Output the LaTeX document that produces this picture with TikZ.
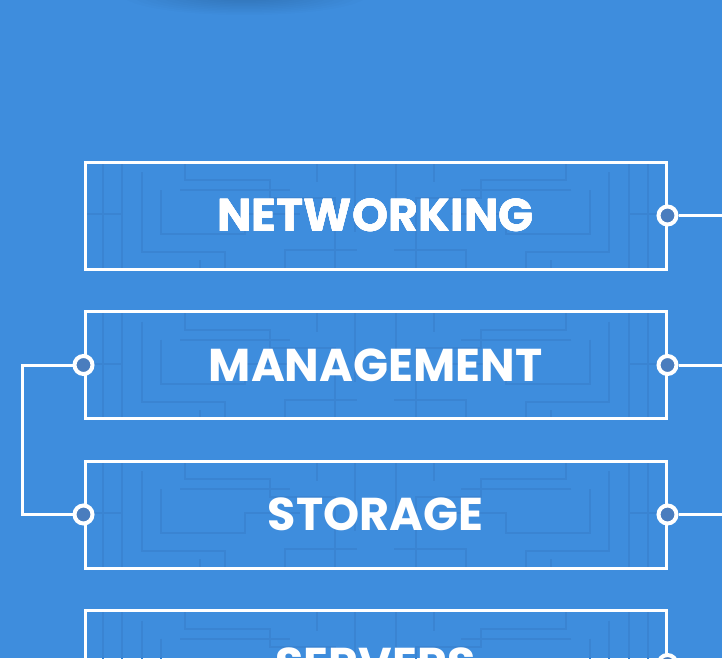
\documentclass[tikz,border=0pt]{standalone}
\usepackage{fontspec}
\newfontfamily\rotulo{Poppins}
\definecolor{fondo}{HTML}{3E8DDD}
\definecolor{trazo}{HTML}{3A84D2}
\definecolor{punto}{HTML}{4A7DBE}
\tikzset{
  caja/.style={draw=white, line width=3pt, minimum width=581pt, minimum height=107pt,
    inner sep=0pt, text=white, font=\rotulo\bfseries\fontsize{46}{46}\selectfont},
  enchufe/.style={circle, draw=white, fill=punto, line width=4pt, minimum size=18pt, inner sep=0pt},
  cable/.style={draw=white, line width=3pt},
  laberinto/.style={draw=trazo, line width=2pt}
}
% Laberinto tenue dentro de cada caja (esquina superior izquierda en #1,#2)
\newcommand{\dibujalaberinto}[2]{%
  \foreach \s/\o in {1/0,-1/581}{
    \begin{scope}[shift={(#1+\o,#2)}, xscale=\s]
      \draw[laberinto] (18,0) -- (18,107) (37,0) -- (37,107) (0,52) -- (37,52);
      \draw[laberinto] (57,10) -- (57,90) -- (140,90) -- (140,107);
      \draw[laberinto] (76,28) -- (76,72) -- (160,72) -- (160,52) -- (215,52);
      \draw[laberinto] (100,0) -- (100,18) -- (185,18) -- (185,36) -- (250,36) -- (250,107);
      \draw[laberinto] (95,28) -- (205,28);
      \draw[laberinto] (115,107) -- (115,98) (200,107) -- (200,88) -- (272,88);
      \draw[laberinto] (232,0) -- (232,20) (270,0) -- (270,70);
    \end{scope}
  }
}
\begin{document}
\begin{tikzpicture}[x=1pt, y=-1pt]
  \useasboundingbox (0,0) rectangle (722,658);
  \clip (0,0) rectangle (722,658);
  % Fondo y sombra superior
  \fill[fondo] (0,0) rectangle (722,658);
  \foreach \r in {1,...,12}
    \fill[black, opacity=0.012] (245,-6) ellipse ({15+9*\r} and {3+1.5*\r});
  % Laberintos
  \foreach \i in {0,...,3}
    \dibujalaberinto{85}{162+149.5*\i}
  % Cajas
  \node[caja] (networking) at (375.5,215.5) {NETWORKING};
  \node[caja] (management) at (375.5,365) {MANAGEMENT};
  \node[caja] (storage) at (375.5,514.5) {STORAGE};
  \node[caja] (servers) at (375.5,664) {SERVERS};
  % Puntos de conexion
  \node[enchufe] (d1) at (networking.east) {};
  \node[enchufe] (d2) at (management.east) {};
  \node[enchufe] (d3) at (storage.east) {};
  \node[enchufe] (d4) at (servers.east) {};
  \node[enchufe] (i2) at (management.west) {};
  \node[enchufe] (i3) at (storage.west) {};
  % Cables
  \coordinate (fin1) at (722,215.5);
  \coordinate (fin2) at (722,365);
  \coordinate (fin3) at (722,514.5);
  \coordinate (codo2) at (22,365);
  \coordinate (codo3) at (22,514.5);
  \draw[cable] (d1) -- (fin1);
  \draw[cable] (d2) -- (fin2);
  \draw[cable] (d3) -- (fin3);
  \draw[cable] (i2) -- (codo2) -- (codo3) -- (i3);
\end{tikzpicture}
\end{document}
